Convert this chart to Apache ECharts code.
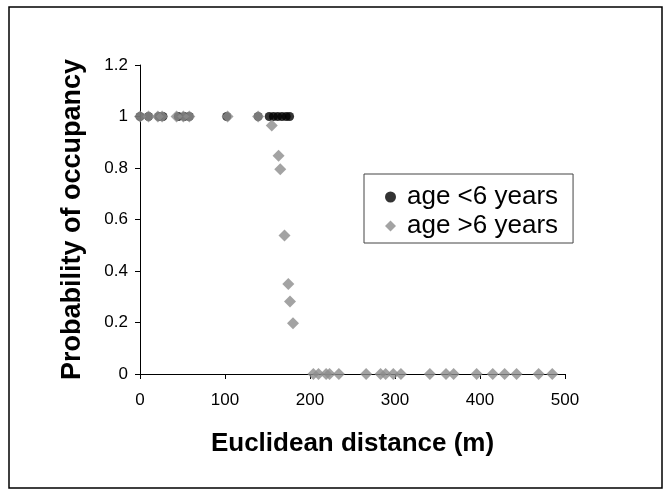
<!DOCTYPE html>
<html>
<head>
<meta charset="utf-8">
<script src="https://cdn.jsdelivr.net/npm/echarts@6/dist/echarts.min.js"></script>
<style>
html,body{margin:0;padding:0;background:#fff;}
#c{width:670px;height:493px;}
</style>
</head>
<body>
<div id="c"></div>
<script>
// Data
const seriesNames = ['age <6 years', 'age >6 years'];
const youngX = [0, 10, 22, 27, 45, 52, 58, 102, 139, 152, 157, 162, 167, 172, 176];
const youngY = [1, 1, 1, 1, 1, 1, 1, 1, 1, 1, 1, 1, 1, 1, 1];
const oldX = [0, 10, 21, 26, 43, 51, 58, 103, 139,
              155, 163, 165, 170, 174.5, 176.5, 180,
              204, 210, 219, 223, 234, 266, 283, 289, 298, 307, 341, 360, 369, 396, 415, 429, 443, 469, 485];
const oldY = [1, 1, 1, 1, 1, 1, 1, 1, 1,
              0.965, 0.848, 0.795, 0.538, 0.35, 0.282, 0.197,
              0, 0, 0, 0, 0, 0, 0, 0, 0, 0, 0, 0, 0, 0, 0, 0, 0, 0, 0];
const xTicks = [0, 100, 200, 300, 400, 500];
const yTicks = [0, 0.2, 0.4, 0.6, 0.8, 1, 1.2];
const xTitle = 'Euclidean distance (m)';
const yTitle = 'Probability of occupancy';

const FONT = 'Liberation Sans, Arial, sans-serif';
const chart = echarts.init(document.getElementById('c'), null, {renderer: 'canvas'});
const pair = (xs, ys) => xs.map((x, i) => [x, ys[i]]);

chart.setOption({
  animation: false,
  backgroundColor: '#fff',
  grid: {left: 140, right: 105, top: 65, bottom: 119},
  graphic: [{
    type: 'rect', z: -1, silent: true,
    shape: {x: 9, y: 7, width: 653, height: 481},
    style: {fill: 'none', stroke: '#000', lineWidth: 1.5}
  }],
  legend: {
    orient: 'vertical',
    left: 364, top: 174,
    padding: [10, 15, 4, 21],
    itemGap: 3,
    itemWidth: 11, itemHeight: 11,
    backgroundColor: '#fff',
    borderColor: '#444', borderWidth: 1,
    textStyle: {fontFamily: FONT, fontSize: 26, color: '#000', padding: [0, 0, 0, 6]},
    data: [
      {name: seriesNames[0], icon: 'circle'},
      {name: seriesNames[1], icon: 'diamond'}
    ]
  },
  xAxis: {
    type: 'value', min: xTicks[0], max: xTicks[xTicks.length - 1], interval: 100,
    name: xTitle, nameLocation: 'middle', nameGap: 57,
    nameTextStyle: {fontFamily: FONT, fontSize: 26, fontWeight: 'bold', color: '#000'},
    axisLine: {show: true, lineStyle: {color: '#000', width: 1}},
    axisTick: {show: true, inside: false, length: 5, lineStyle: {color: '#000'}},
    axisLabel: {fontFamily: FONT, fontSize: 17, color: '#000', margin: 18},
    splitLine: {show: false}
  },
  yAxis: {
    type: 'value', min: yTicks[0], max: yTicks[yTicks.length - 1], interval: 0.2,
    name: yTitle, nameLocation: 'middle', nameGap: 54, nameRotate: 90,
    nameTextStyle: {fontFamily: FONT, fontSize: 27, fontWeight: 'bold', color: '#000'},
    axisLine: {show: true, lineStyle: {color: '#000', width: 1}},
    axisTick: {show: true, inside: false, length: 5, lineStyle: {color: '#000'}},
    axisLabel: {fontFamily: FONT, fontSize: 17, color: '#000', margin: 12,
      formatter: v => String(Math.round(v * 10) / 10)},
    splitLine: {show: false}
  },
  series: [
    {
      name: seriesNames[0], type: 'scatter', symbol: 'circle', symbolSize: 9,
      itemStyle: {color: '#000'},
      data: pair(youngX, youngY)
    },
    {
      name: seriesNames[1], type: 'scatter', symbol: 'diamond', symbolSize: 12,
      itemStyle: {color: '#8c8c8c'},
      data: pair(oldX, oldY)
    }
  ]
});
</script>
</body>
</html>
